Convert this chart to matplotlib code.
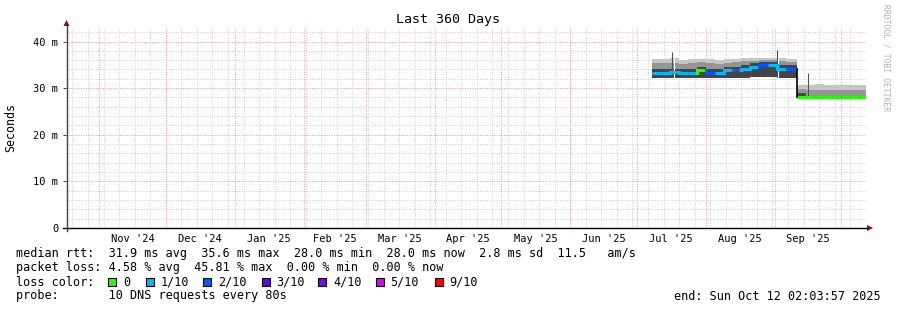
import matplotlib
matplotlib.use("Agg")
import matplotlib.pyplot as plt
import matplotlib.dates as mdates
from matplotlib.patches import Rectangle, Polygon
import numpy as np

# graph time range (360 days)
t_start = np.datetime64("2024-10-17T02:03:57")
t_end = np.datetime64("2025-10-12T02:03:57")

# smoke data, one value per bin, bins start at these dates (last entry = end)
bin_edges = ["2025-07-08", "2025-07-12", "2025-07-16", "2025-07-20", "2025-07-24",
             "2025-07-28", "2025-08-01", "2025-08-05", "2025-08-09", "2025-08-13",
             "2025-08-17", "2025-08-21", "2025-08-25", "2025-08-29", "2025-09-02",
             "2025-09-06", "2025-09-11", "2025-09-15", "2025-09-19", "2025-09-23",
             "2025-09-27", "2025-10-01", "2025-10-05", "2025-10-09", "2025-10-12T02:03"]
median_ms = [33.2, 33.2, 33.5, 33.2, 33.2, 33.9, 33.3, 33.2, 33.8, 33.8, 34.2, 34.6,
             35.0, 35.0, 34.2, 34.2,
             28.1, 28.0, 28.0, 28.0, 28.0, 28.0, 28.0, 28.0]
smoke_lo = [32.1, 32.1, 32.1, 32.1, 32.1, 32.2, 32.1, 32.1, 32.2, 32.2, 32.2, 32.3,
            32.3, 32.3, 32.2, 32.2,
            27.8, 27.8, 27.8, 27.8, 27.8, 27.8, 27.8, 27.8]
smoke_dark = [34.0, 34.0, 34.2, 34.0, 34.0, 34.6, 34.1, 34.0, 34.5, 34.6, 35.0, 35.4,
              35.6, 35.6, 35.0, 35.0,
              29.0, 28.3, 28.3, 28.3, 28.3, 28.3, 28.3, 28.3]
smoke_mid = [35.4, 35.3, 35.4, 35.2, 35.3, 35.5, 35.3, 35.2, 35.4, 35.5, 35.8, 35.9,
             36.0, 36.0, 35.8, 35.7,
             29.8, 29.6, 29.7, 29.6, 29.6, 29.7, 29.6, 29.6]
smoke_hi = [36.3, 36.2, 36.4, 36.1, 36.2, 36.3, 36.2, 36.1, 36.3, 36.3, 36.4, 36.5,
            36.5, 36.5, 36.4, 36.3,
            30.7, 30.6, 30.8, 30.6, 30.7, 30.7, 30.6, 30.7]
loss_idx = [1, 1, 1, 1, 1, 0, 2, 1, 1, 2, 1, 1, 2, 1, 1, 2,
            0, 0, 0, 0, 0, 0, 0, 0]

# single outliers and missing samples
spike_dates = ["2025-07-17", "2025-09-02", "2025-09-16"]
spike_lo = [32.5, 32.5, 28.0]
spike_hi = [37.8, 38.1, 33.2]
gap_dates = ["2025-07-17T12:00", "2025-09-02T12:00"]

loss_labels = ["0", "1/10", "2/10", "3/10", "4/10", "5/10", "9/10"]
loss_colors = ["#26ff00", "#00b8ff", "#0059ff", "#5e00ff", "#7e00ff", "#dd00ff", "#ff0000"]

month_starts = ["2024-11-01", "2024-12-01", "2025-01-01", "2025-02-01", "2025-03-01",
                "2025-04-01", "2025-05-01", "2025-06-01", "2025-07-01", "2025-08-01",
                "2025-09-01", "2025-10-01"]
month_labels = ["Nov '24", "Dec '24", "Jan '25", "Feb '25", "Mar '25", "Apr '25",
                "May '25", "Jun '25", "Jul '25", "Aug '25", "Sep '25"]
y_ticks = [0, 10, 20, 30, 40]
y_labels = ["0", "10 m", "20 m", "30 m", "40 m"]

MONO = "DejaVu Sans Mono"
W, H = 897, 310

def dn(s):
    return mdates.date2num(np.datetime64(s))

fig = plt.figure(figsize=(W / 100, H / 100), dpi=100)
ax = fig.add_axes([66 / W, 82 / H, 800 / W, 200 / H])
ax.set_xlim(dn(t_start), dn(t_end))
ax.set_ylim(0, 200 / 4.6625)
for s in ax.spines.values():
    s.set_visible(False)

## grid: weekly minor, monthly major, 2 ms minor / 10 ms major
week = dn("2024-10-20")
while week < dn(t_end):
    ax.axvline(week, color="#cccccc", lw=0.7, ls=(0, (1, 1.5)), zorder=0)
    week += 7
for m in month_starts:
    ax.axvline(dn(m), color="#f09a9a", lw=0.7, ls=(0, (1, 1.5)), zorder=0.5)
for yv in np.arange(2, 43, 2):
    major = yv % 10 == 0
    ax.axhline(yv, color="#f09a9a" if major else "#cccccc", lw=0.7,
               ls=(0, (1, 1.5)), zorder=0.5 if major else 0)

## smoke
x = np.array([dn(e) for e in bin_edges])
def ext(v):
    return list(v) + [v[-1]]
ax.fill_between(x, ext(smoke_lo), ext(smoke_hi), step="post", color="#c6c6c6", lw=0, zorder=2)
ax.fill_between(x, ext(smoke_lo), ext(smoke_mid), step="post", color="#959595", lw=0, zorder=2)
ax.fill_between(x, ext(smoke_lo), ext(smoke_dark), step="post", color="#454545", lw=0, zorder=2)

for g in gap_dates:
    i = np.searchsorted(x, dn(g)) - 1
    ax.vlines(dn(g), smoke_lo[i], smoke_hi[i], color="white", lw=0.8, zorder=3)
ax.vlines([dn(d) for d in spike_dates], spike_lo, spike_hi, color="#505050", lw=0.8, zorder=3)

## median line coloured by loss
for i in range(len(median_ms)):
    c = loss_colors[loss_idx[i]]
    ax.plot([x[i], x[i + 1]], [median_ms[i], median_ms[i]], color=c, lw=2.2,
            solid_capstyle="butt", zorder=4)
    if i > 0 and median_ms[i] != median_ms[i - 1]:
        big = abs(median_ms[i] - median_ms[i - 1]) > 2
        ax.plot([x[i], x[i]], [median_ms[i - 1], median_ms[i]],
                color="black" if big else c, lw=1.2 if big else 2.2, zorder=4)

## ticks
mids = [(dn(month_starts[i]) + dn(month_starts[i + 1])) / 2 for i in range(len(month_labels))]
ax.set_xticks(mids)
ax.set_xticklabels(month_labels, fontfamily=MONO, fontsize=7.5)
ax.set_yticks(y_ticks)
ax.set_yticklabels(y_labels, fontfamily=MONO, fontsize=7.5)
ax.tick_params(axis="x", length=0, pad=4)
ax.tick_params(axis="y", length=2.5, width=0.7, color="#404040", pad=3)

## overlay in pixel coords for axes lines, arrows, legend
ov = fig.add_axes([0, 0, 1, 1])
ov.set_xlim(0, W)
ov.set_ylim(H, 0)
ov.axis("off")
ov.patch.set_visible(False)
ov.plot([63, 867], [228, 228], color="black", lw=1.0)
ov.plot([66.5, 66.5], [231, 26], color="#404040", lw=1.0)
ov.add_patch(Polygon([[867, 225], [873, 228], [867, 231]], closed=True, color="#8b1010", lw=0))
ov.add_patch(Polygon([[63.5, 26], [66.5, 20], [69.5, 26]], closed=True, color="#8b1010", lw=0))

ov.text(448, 19, "Last 360 Days", ha="center", va="center", fontfamily=MONO, fontsize=9.6)
ov.text(11, 128, "Seconds", ha="center", va="center", rotation=90, fontfamily=MONO, fontsize=8.4)
ov.text(886, 4, "RRDTOOL / TOBI OETIKER", ha="center", va="top", rotation=270,
        fontfamily=MONO, fontsize=5.8, color="#b4b4b4")

fs = 8.5
legend_rows = [
    (254, "median rtt:  31.9 ms avg  35.6 ms max  28.0 ms min  28.0 ms now  2.8 ms sd  11.5   am/s"),
    (268, "packet loss: 4.58 % avg  45.81 % max  0.00 % min  0.00 % now"),
    (282, "loss color:"),
    (296, "probe:       10 DNS requests every 80s"),
]
for yp, t in legend_rows:
    ov.text(16, yp, t, ha="left", va="center", fontfamily=MONO, fontsize=fs)

box_x = [108, 145.5, 203, 261.5, 318, 375.5, 434.5]
for bx, lab, col in zip(box_x, loss_labels, loss_colors):
    ov.add_patch(Rectangle((bx, 278), 8, 8, facecolor=col, edgecolor="black", lw=0.8))
    ov.text(bx + 15, 282, lab, ha="left", va="center", fontfamily=MONO, fontsize=fs)

ov.text(881, 296, "end: Sun Oct 12 02:03:57 2025", ha="right", va="center",
        fontfamily=MONO, fontsize=fs)

fig.savefig("out.png", dpi=100)
